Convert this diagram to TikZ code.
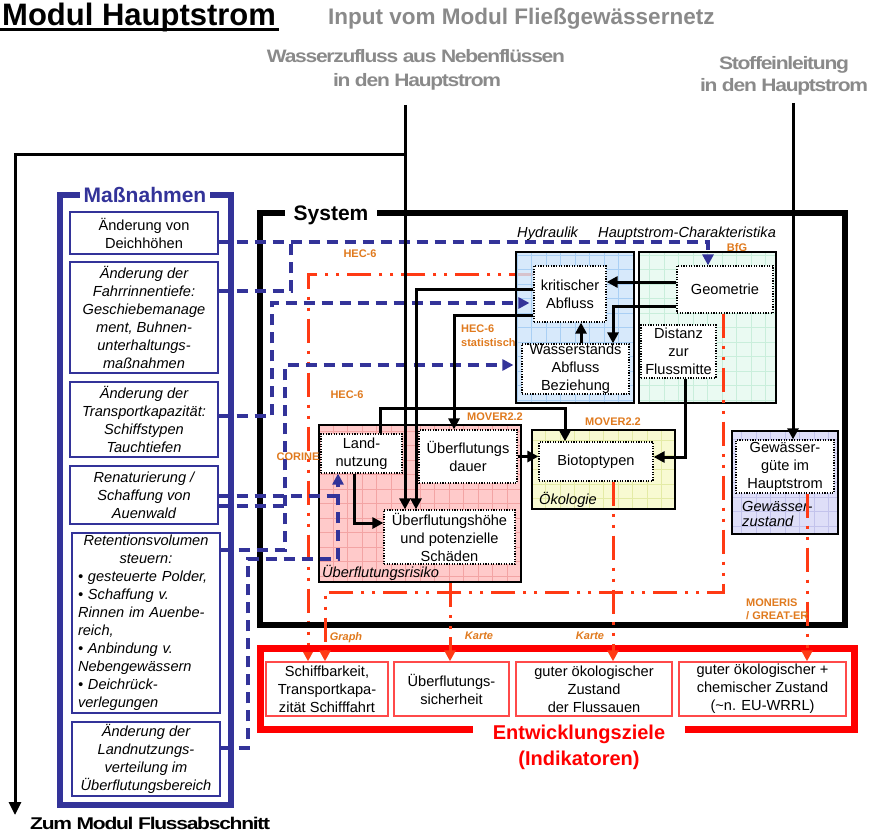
\documentclass[tikz,border=0pt]{standalone}
\usepackage{fontspec}
\setmainfont{Liberation Sans}
\newfontfamily\condfont[LetterSpace=-6]{Liberation Sans}
\usepackage{graphicx}
\usetikzlibrary{arrows.meta}

\definecolor{mblue}{HTML}{333399}
\definecolor{orng}{HTML}{E07A1E}
\definecolor{rline}{HTML}{FF3A14}
\definecolor{ezred}{HTML}{FF0000}
\definecolor{boxred}{HTML}{FF4A4A}
\definecolor{graytxt}{HTML}{8A8A8A}
\definecolor{hydfill}{HTML}{CDE4FA}\definecolor{hydgrid}{HTML}{A9CFF4}
\definecolor{hcfill}{HTML}{EAFAF2}\definecolor{hcgrid}{HTML}{C9EEDB}
\definecolor{riskfill}{HTML}{FFCACA}\definecolor{riskgrid}{HTML}{F3A4A4}
\definecolor{oekofill}{HTML}{F8FAD2}\definecolor{oekogrid}{HTML}{E4EBA6}
\definecolor{gzfill}{HTML}{DEDEF8}\definecolor{gzgrid}{HTML}{C3C3EC}

\pgfdeclarelayer{bg}
\pgfdeclarelayer{under}
\pgfdeclarelayer{hydl}
\pgfsetlayers{bg,under,hydl,main}

\tikzset{
  every node/.style={inner sep=0pt},
  txt/.style={align=center, font=\fontsize{14.6}{18}\selectfont},
  mbox/.style={txt, draw=mblue, line width=1.4pt, fill=white, font=\fontsize{14.6}{18}\selectfont\itshape},
  ibox/.style={txt, draw=black, line width=1.2pt, dash pattern=on 1.2pt off 1.4pt, fill=white},
  ezbox/.style={txt, draw=boxred, line width=1.4pt, fill=white},
  cont/.style 2 args={draw=black, line width=2pt, fill=#1,
    path picture={\draw[#2, line width=0.6pt, step=14.5pt]
      (path picture bounding box.south west) grid (path picture bounding box.north east);}},
  clabel/.style={font=\fontsize{14.6}{15.5}\selectfont\itshape, align=left},
  lab/.style={font=\fontsize{11}{14}\selectfont\bfseries, text=orng, align=left},
  ilab/.style={lab, font=\fontsize{11}{14}\selectfont\bfseries\itshape},
  condtxt/.style={text=graytxt, font=\fontsize{18}{22}\selectfont\condfont\bfseries},
  blk/.style={line width=3pt, -{Triangle[length=11pt,width=11pt]}},
  bdash/.style={draw=mblue, line width=3.3pt, dash pattern=on 11pt off 7pt},
  barrow/.style={bdash, -{Triangle[length=11pt,width=11pt]}},
  rdash/.style={draw=rline, line width=3pt,
    dash pattern=on 24pt off 8pt on 3pt off 8pt on 3pt off 8pt,
    -{Triangle[length=11pt,width=11pt]}},
}

\begin{document}
\begin{tikzpicture}[x=1pt,y=-1pt]
\useasboundingbox (0,0) rectangle (874,834);
\begin{pgfonlayer}{bg}
\fill[white] (0,0) rectangle (874,834);
\end{pgfonlayer}

% ---------- headings ----------
\node[anchor=base west, font=\fontsize{31}{36}\selectfont\bfseries] (title) at (2,26) {Modul Hauptstrom};
\draw[line width=3pt] ([xshift=-3pt,yshift=-3.5pt]title.base west) -- ([xshift=3pt,yshift=-3.5pt]title.base east);
\node[anchor=base west, text=graytxt, font=\fontsize{22.5}{26}\selectfont\bfseries] (input) at (328,25) {Input vom Modul Fließgewässernetz};
\node[condtxt, anchor=base] (wz1) at (416,63) {\resizebox{298pt}{\height}{Wasserzufluss aus Nebenflüssen}};
\node[condtxt, anchor=base] (wz2) at (417,87) {\resizebox{168pt}{\height}{in den Hauptstrom}};
\node[condtxt, anchor=base] (st1) at (784,70) {\resizebox{130pt}{\height}{Stoffeinleitung}};
\node[condtxt, anchor=base] (st2) at (784,92) {\resizebox{168pt}{\height}{in den Hauptstrom}};
\node[condtxt, text=black, font=\fontsize{17}{20}\selectfont\condfont\bfseries, anchor=base west] (zum) at (30,829) {\resizebox{240pt}{\height}{Zum Modul Flussabschnitt}};

\coordinate (wzin) at (405,105);
\coordinate (stin) at (793,103);
\coordinate (split) at (405,155);
\coordinate (zumtip) at (15,815);

% ---------- frames ----------
\draw[mblue, line width=6pt] (60,195) rectangle (231,805);
\node[fill=white, text=mblue, font=\fontsize{21}{24}\selectfont\bfseries, inner xsep=4pt, inner ysep=1pt] (massn) at (145,195) {Maßnahmen};
\draw[line width=6pt] (260,213) rectangle (845,625);
\node[fill=white, font=\fontsize{21}{24}\selectfont\bfseries, inner xsep=9pt, inner ysep=1pt] (system) at (331,215) {System};
\draw[ezred, line width=7pt] (260,648) rectangle (854,729);
\node[fill=white, text=ezred, align=center, font=\fontsize{20}{26}\selectfont\bfseries, inner xsep=20pt, inner ysep=1pt, anchor=north] (ziele) at (579,724) {Entwicklungsziele\\(Indikatoren)};

% ---------- containers ----------
\begin{pgfonlayer}{hydl}
\node[cont={hydfill}{hydgrid}, fill opacity=0.8, minimum width=118pt, minimum height=151pt] (hyd) at (575,327.5) {};
\end{pgfonlayer}
\node[cont={hcfill}{hcgrid}, minimum width=137pt, minimum height=151pt] (hc) at (707.5,327.5) {};
\node[cont={riskfill}{riskgrid}, minimum width=202pt, minimum height=157pt] (risk) at (420,503.5) {};
\node[cont={oekofill}{oekogrid}, minimum width=143pt, minimum height=79pt] (oeko) at (603.5,469.5) {};
\node[cont={gzfill}{gzgrid}, minimum width=106pt, minimum height=103pt] (gz) at (785,482.5) {};

\node[clabel, anchor=base west] (hydlab) at (517,237) {Hydraulik};
\node[clabel, anchor=base west] (hclab) at (598,237) {Hauptstrom-Charakteristika};
\node[clabel, anchor=base west] (risklab) at (322,577) {Überflutungsrisiko};
\node[clabel, anchor=base west] (oekolab) at (539,504) {Ökologie};
\node[clabel, anchor=north west] (gzlab) at (742,501) {Gewässer-\\zustand};

% ---------- boxes ----------
\node[ibox, minimum width=72pt, minimum height=56pt] (krit) at (570,294) {kritischer\\Abfluss};
\node[ibox, minimum width=107pt, minimum height=50pt] (wab) at (575.5,369) {Wasserstands\\Abfluss\\Beziehung};
\node[ibox, minimum width=96pt, minimum height=47pt] (geo) at (725,289.5) {Geometrie};
\node[ibox, minimum width=75pt, minimum height=53pt] (dist) at (678.5,351.5) {Distanz\\zur\\Flussmitte};
\node[ibox, minimum width=81pt, minimum height=39pt] (land) at (361.5,453.5) {Land-\\nutzung};
\node[ibox, minimum width=98pt, minimum height=53pt] (ued) at (468,456.5) {Überflutungs\\dauer};
\node[ibox, minimum width=131pt, minimum height=54pt] (ueh) at (449.5,537) {Überflutungshöhe\\und potenzielle\\Schäden};
\node[ibox, minimum width=114pt, minimum height=39pt] (bio) at (596,461.5) {Biotoptypen};
\node[ibox, minimum width=98pt, minimum height=53pt] (gg) at (785,466.5) {Gewässer-\\güte im\\Hauptstrom};

\node[mbox, font=\fontsize{14.6}{18}\selectfont, minimum width=148pt, minimum height=42pt] (m1) at (144,233) {Änderung von\\Deichhöhen};
\node[mbox, minimum width=148pt, minimum height=111pt] (m2) at (144,317.5) {Änderung der\\Fahrrinnentiefe:\\Geschiebemanage\\ment, Buhnen-\\unterhaltungs-\\maßnahmen};
\node[mbox, minimum width=148pt, minimum height=75pt] (m3) at (144,419.5) {Änderung der\\Transportkapazität:\\Schiffstypen\\Tauchtiefen};
\node[mbox, minimum width=148pt, minimum height=58pt] (m4) at (144,495) {Renaturierung /\\Schaffung von\\Auenwald};
\node[mbox, text width=136pt, align=left, minimum width=148pt, minimum height=180pt] (m5) at (146,623) {\makebox[136pt]{Retentionsvolumen}\\\makebox[136pt]{steuern:}\\• gesteuerte Polder,\\• Schaffung v.\\Rinnen im Auenbe-\\reich,\\• Anbindung v.\\Nebengewässern\\• Deichrück-\\verlegungen};
\node[mbox, minimum width=148pt, minimum height=74pt] (m6) at (146,759) {Änderung der\\Landnutzungs-\\verteilung im\\Überflutungsbereich};

\node[ezbox, minimum width=122pt, minimum height=54pt] (ez1) at (327,689) {Schiffbarkeit,\\Transportkapa-\\zität Schifffahrt};
\node[ezbox, minimum width=115pt, minimum height=54pt] (ez2) at (451.5,689) {Überflutungs-\\sicherheit};
\node[ezbox, minimum width=156pt, minimum height=54pt] (ez3) at (594,689) {guter ökologischer\\Zustand\\der Flussauen};
\node[ezbox, minimum width=167pt, minimum height=54pt] (ez4) at (762.5,689) {guter ökologischer +\\chemischer Zustand\\(\textasciitilde n. EU-WRRL)};

% ---------- junctions ----------
\coordinate (j1) at (291,242);
\coordinate (j2) at (272,303);
\coordinate (j3) at (285,365);
\coordinate (j4) at (248,559);
\coordinate (jl) at (338,496);
\coordinate (jw) at (285,506);
\coordinate (rj) at (325,592);

% ---------- measures (blue dashed) ----------
\draw[barrow] ([yshift=-9pt]m1.east) -| ([xshift=-17pt]geo.north);
\draw[bdash] ([yshift=26.5pt]m2.east) -| (j1);
\draw[barrow, shorten >=4pt] ([yshift=3.5pt]m3.east) -| (j2) -- ([yshift=-9pt]krit.west);
\draw[bdash] ([yshift=-1pt]m4.east) -- (jl);
\draw[bdash] ([yshift=-11pt]m4.east) -- (jw);
\draw[barrow, shorten >=8pt] ([yshift=73pt]m5.east) -| (j3) -- ([yshift=4pt]wab.west);
\draw[barrow] ([yshift=11pt]m6.east) -| (j4) -| ([xshift=-23.5pt]land.south);

% ---------- system links (black) ----------
\draw[blk] (wzin) -- ([xshift=-44.5pt]ueh.north);
\draw[blk, -{Triangle[length=13pt,width=12pt]}] (split) -| (zumtip);
\draw[blk] (stin) -- ([xshift=8pt]gg.north);
\draw[blk] ([yshift=5pt]krit.west) -| ([xshift=-33.5pt]ueh.north);
\draw[blk] ([yshift=-21pt]krit.west) -| ([xshift=-14pt]ued.north);
\draw[blk] ([xshift=18.5pt]land.north) -- ++(0,-25) -| ([xshift=-31pt]bio.north);
\draw[blk] ([xshift=-7.5pt]land.south) |- ([yshift=14pt]ueh.west);
\draw[blk] (ued.east) -- (ued.east -| bio.west);
\draw[blk] ([xshift=6.5pt]dist.south) |- ([yshift=4.5pt]bio.east);
\draw[blk] ([yshift=7.5pt]geo.west) -- ([yshift=12pt]krit.east);
\draw[blk] ([yshift=-16.5pt]geo.west) -| ([xshift=37.5pt]wab.north);
\draw[blk] ([xshift=5.5pt]wab.north) -- ([xshift=11pt]krit.south);

% ---------- indicators (red dash-dot) ----------
\begin{pgfonlayer}{under}
\draw[rdash] ([yshift=20pt]krit.west) -| ([xshift=-19pt]ez1.north);
\end{pgfonlayer}
\draw[rdash] ([xshift=-2pt]geo.south) |- (rj) -- ([xshift=-2pt]ez1.north);
\draw[rdash] ([xshift=30pt]risk.south) -- ([xshift=-1.5pt]ez2.north);
\draw[rdash] ([xshift=17pt]bio.south) -- ([xshift=19pt]ez3.north);
\draw[rdash] ([xshift=22pt]gg.south) -- ([xshift=44.5pt]ez4.north);

% ---------- model labels ----------
\node[lab] (hec1) at (360,254) {HEC-6};
\node[lab, anchor=west] (hec2) at (461,335.5) {HEC-6\\statistisch};
\node[lab] (hec3) at (347,395) {HEC-6};
\node[lab] (mov1) at (495,417) {MOVER2.2};
\node[lab] (mov2) at (613,422) {MOVER2.2};
\node[lab] (cor) at (298,457) {CORINE};
\node[lab] (bfg) at (737,248) {BfG};
\node[lab, anchor=west, font=\fontsize{11}{13}\selectfont\bfseries] (mon) at (746,609.5) {MONERIS\\/ GREAT-ER};
\node[ilab] (graph) at (346,638) {Graph};
\node[ilab] (karte1) at (479,636) {Karte};
\node[ilab] (karte2) at (590,636) {Karte};
\end{tikzpicture}
\end{document}
